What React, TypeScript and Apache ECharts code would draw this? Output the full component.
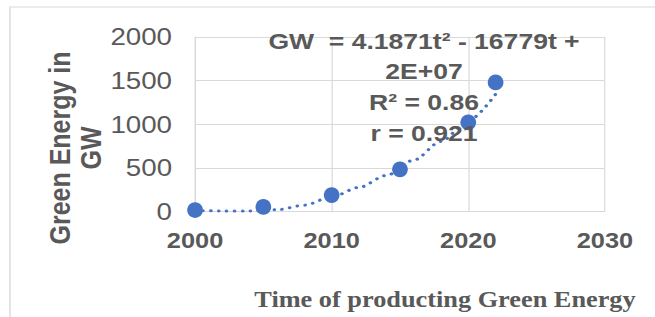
import React, { useEffect, useRef } from "react";
import * as echarts from "echarts";

// Observed data
const years = [2000, 2005, 2010, 2015, 2020, 2022];
const gw = [19, 55, 190, 485, 1023, 1480];

// Polynomial trendline
const trendYears = [2000, 2002, 2004, 2006, 2008, 2010, 2012, 2014, 2016, 2018, 2020, 2022];
const trendGW = [14, 8, 8, 22, 75, 170, 278, 415, 590, 805, 1045, 1345];

// Axis ticks
const xTicks = { min: 2000, max: 2030, interval: 10 };
const yTicks = { min: 0, max: 2000, interval: 500 };

const eqLines = ["GW  = 4.1871t² - 16779t +", "2E+07", "R² = 0.86", "r = 0.921"];
const yTitle = "Green Energy in\nGW";
const xTitle = "Time of producting Green Energy";

const SX = 1.18;
const W = 655 / SX;
const H = 317;
const GRAY = "#595959";
const GRID = "#d9d9d9";
const BLUE = "#4472C4";
const SANS = "'Liberation Sans', Arial, sans-serif";
const SERIF = "'Liberation Serif', 'Times New Roman', serif";

export default function App() {
  const ref = useRef<HTMLDivElement>(null);
  useEffect(() => {
    if (!ref.current) return;
    const chart = echarts.init(ref.current, null, { renderer: "svg" });
    const eqY = [41.7, 71.7, 102.3, 133.3];
    chart.setOption({
      animation: false,
      backgroundColor: "#ffffff",
      grid: { left: 165.3, right: W - 605 / SX, top: 37, bottom: H - 211.7 },
      xAxis: {
        type: "value",
        min: xTicks.min,
        max: xTicks.max,
        interval: xTicks.interval,
        axisLine: { show: true, lineStyle: { color: GRID, width: 1 } },
        axisTick: { show: false },
        splitLine: { show: true, lineStyle: { color: GRID, width: 1 } },
        axisLabel: {
          color: GRAY,
          fontFamily: SANS,
          fontWeight: "bold",
          fontSize: 21.5,
          margin: 18,
          formatter: (v: number) => String(v),
        },
      },
      yAxis: {
        type: "value",
        min: yTicks.min,
        max: yTicks.max,
        interval: yTicks.interval,
        axisLine: { show: true, lineStyle: { color: GRID, width: 1 } },
        axisTick: { show: false },
        splitLine: { show: true, lineStyle: { color: GRID, width: 1 } },
        axisLabel: {
          color: GRAY,
          fontFamily: SANS,
          fontSize: 23.5,
          margin: 19.5,
          formatter: (v: number) => String(v),
        },
      },
      graphic: [
        {
          type: "rect",
          silent: true,
          z: -10,
          shape: { x: 10 / SX, y: 7, width: 800, height: 600 },
          style: { fill: "none", stroke: GRID, lineWidth: 1.2 },
        },
        {
          type: "text",
          x: 63.6,
          y: 148,
          rotation: Math.PI / 2,
          style: {
            text: yTitle,
            fill: GRAY,
            font: `bold 25px ${SANS}`,
            align: "center",
            verticalAlign: "middle",
            lineHeight: 26,
          },
        },
        {
          type: "text",
          x: 445 / SX,
          y: 299,
          style: {
            text: xTitle,
            fill: GRAY,
            font: `bold 22.3px ${SERIF}`,
            align: "center",
            verticalAlign: "middle",
          },
        },
        ...eqLines.map((t, i) => ({
          type: "text",
          x: 424 / SX,
          y: eqY[i],
          z: 100,
          style: {
            text: t,
            fill: GRAY,
            font: `bold 22.5px ${SANS}`,
            align: "center",
            verticalAlign: "middle",
          },
        })),
      ],
      series: [
        {
          type: "line",
          data: trendYears.map((y, i) => [y, trendGW[i]]),
          showSymbol: false,
          smooth: 0.3,
          smoothMonotone: "x",
          lineStyle: { color: BLUE, width: 3, type: [0.1, 6.6], cap: "round" },
          z: 2,
        },
        {
          type: "scatter",
          data: years.map((y, i) => [y, gw[i]]),
          symbol: "circle",
          symbolSize: [15.7 / SX, 15.7],
          itemStyle: { color: BLUE, opacity: 1 },
          z: 3,
        },
      ],
    });
    return () => chart.dispose();
  }, []);
  return (
    <div
      ref={ref}
      style={{
        position: "fixed",
        left: 0,
        top: 0,
        width: W,
        height: H,
        transform: `scaleX(${SX})`,
        transformOrigin: "0 0",
        background: "#fff",
      }}
    />
  );
}
